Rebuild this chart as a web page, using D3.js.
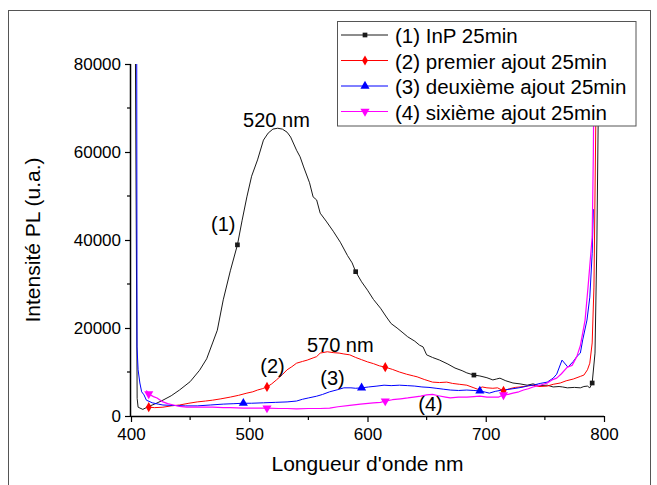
<!DOCTYPE html>
<html><head><meta charset="utf-8">
<script src="https://cdn.jsdelivr.net/npm/d3@7/dist/d3.min.js"></script>
<style>body{margin:0;background:#fff}</style>
</head><body>
<svg id="c" width="657" height="485"></svg>
<script>
// ---------- data ----------
const xTicks = [400, 500, 600, 700, 800];
const xMinor = [450, 550, 650, 750];
const yTicks = [0, 20000, 40000, 60000, 80000];
const yMinor = [10000, 30000, 50000, 70000];
const xTitle = "Longueur d'onde nm";
const yTitle = "Intensité PL (u.a.)";
const seriesNames = ["(1) InP 25min", "(2) premier ajout 25min", "(3) deuxième ajout 25min", "(4) sixième ajout 25min"];

const s1 = [[403.5,95000],[404.5,40000],[405.2,4000],[406,2000],[410,1500],[415,2200],[420,2700],[427,3600],[434,4600],[441,5900],[450,7800],[458,10400],[464,13000],[469,16600],[473,19500],[478,26400],[484,33000],[490,38900],[494,44500],[498,49800],[502,54500],[507,58200],[512,62700],[516,64300],[520,65200],[524,65400],[528,65200],[532,64500],[535,63400],[540,60400],[543,58900],[546,56600],[551,53000],[554,49800],[557,49100],[560,46100],[565,44300],[571,42000],[577,39500],[583,36500],[587,34800],[590,32800],[595,30500],[600,28600],[605,26500],[611,24500],[616,22500],[620,21000],[625,20000],[630,18900],[634,18000],[640,17000],[644,16100],[647,15700],[650,13900],[655,13300],[661,12700],[668,11800],[674,10900],[680,10300],[684,9800],[690,9300],[695,9100],[701,8700],[706,8200],[709,8400],[712,8600],[717,8000],[723,7500],[729,7300],[735,7000],[740,7300],[745,6900],[752,7000],[757,6600],[762,6700],[765,6600],[769,6400],[775,6500],[780,6400],[783,6700],[786,6800],[788,6400],[790,7500],[792.4,14300],[794,40000],[795,65000],[796.5,95000]];
const s2 = [[413,2100],[415,2000],[420,1900],[427,2000],[434,2300],[441,2500],[449,2900],[456,3200],[463,3400],[469,3600],[476,3900],[484,4300],[491,4700],[498,5200],[503,5500],[507,5900],[511,6200],[515,6600],[519,7300],[523,8200],[528,9400],[532,10500],[536,11200],[540,12000],[545,12400],[549,12700],[554,13200],[557,13500],[560,14300],[566,14600],[571,14400],[576,14300],[580,14100],[585,13900],[590,13300],[595,12800],[600,12300],[605,11900],[610,11400],[615,11100],[621,10600],[627,10000],[633,9500],[639,9100],[642,8900],[648,8300],[655,7700],[661,7600],[667,7700],[672,7400],[678,7200],[684,7000],[690,6400],[693,6100],[697,6600],[701,6400],[706,6300],[710,6400],[715,5700],[720,6200],[725,6500],[729,6600],[735,6800],[740,7000],[745,6700],[752,6800],[757,7200],[763,7500],[768,8000],[774,8400],[780,9000],[783,9300],[786,10500],[788,12000],[790,16600],[791.5,29300],[793,65000],[794,95000]];
const s3 = [[404.8,95000],[405.1,15700],[406,10500],[407.5,7500],[409,5500],[411,4800],[413,3600],[418,3000],[423,2700],[427,2500],[435,2400],[446,2300],[456,2300],[467,2500],[478,2700],[487,2800],[495,2900],[502,2900],[512,3000],[522,3100],[532,3200],[540,3400],[545,3800],[550,4100],[557,4500],[562,4900],[568,5500],[575,6000],[580,6400],[586,6400],[590,6300],[595,6400],[601,6600],[608,6800],[614,7000],[620,6900],[627,7000],[634,6900],[640,6800],[646,6600],[652,6500],[658,6300],[664,6100],[670,5900],[677,5800],[684,5900],[690,5800],[695,5700],[700,5400],[703,5200],[708,5600],[714,5900],[718,6000],[723,6200],[728,6400],[732,6600],[736,6900],[740,7000],[746,7400],[752,7700],[757,8600],[760,9500],[764.5,12700],[769.5,11100],[774,12400],[777,13500],[780,14300],[782,17300],[785.6,21800],[788,27000],[790,37000],[791,47000]];
const s4 = [[413,5800],[415,5000],[419,4400],[422,4100],[427,3200],[431,2800],[436,2500],[441,2200],[447,2000],[458,2000],[469,2000],[478,1900],[484,1900],[495,1800],[505,1800],[515,1800],[525,1700],[532,1700],[540,1600],[550,1700],[560,1700],[568,1800],[575,2100],[585,2400],[594,2700],[605,3000],[611,3100],[615,3400],[621,3700],[628,3900],[634,4100],[639,4300],[645,4500],[650,4800],[655,4900],[660,4600],[666,4300],[670,4100],[677,4300],[684,4300],[690,4400],[695,4500],[701,4300],[706,4300],[711,4300],[715,4800],[719,4900],[723,5200],[728,5500],[732,5900],[736,6200],[740,6600],[746,7000],[752,7500],[756,8200],[760,8600],[764,9600],[769,11100],[773,11500],[777,13500],[780,16000],[784,21800],[786.5,29300],[790,40700],[791,59800],[792,95000]];

const markers1 = [490, 590, 690, 790];
const markers2 = [415, 515, 615, 715];
const markers3 = [495, 595, 695];
const markers4 = [415, 515, 615, 715];

const annotTexts = ["520 nm", "570 nm", "(1)", "(2)", "(3)", "(4)"];
const annotAnchors = [[523, 65700], [577, 14550], [478, 42000], [519.7, 9800], [570.4, 7050], [653.3, 1150]];

// ---------- drawing ----------
const W = 657, H = 485;
const M = {left: 131, right: 604, top: 64, bottom: 416};
const FONT = "'Liberation Sans', Arial, sans-serif";
const svg = d3.select("#c");

const x = d3.scaleLinear().domain([400, 800]).range([M.left, M.right]);
const y = d3.scaleLinear().domain([0, 80000]).range([M.bottom, M.top]);

// outer frame
svg.append("rect").attr("x", 8.5).attr("y", 10.5).attr("width", 642).attr("height", 490)
  .attr("fill", "none").attr("stroke", "#555").attr("stroke-width", 1);

svg.append("defs").append("clipPath").attr("id", "clip")
  .append("rect").attr("x", M.left).attr("y", M.top).attr("width", M.right - M.left + 20).attr("height", M.bottom - M.top);

const series = [
  {data: s1, marks: markers1, color: "#1a1a1a", sym: d3.symbolSquare, size: 22, w: 1},
  {data: s2, marks: markers2, color: "#ff0000", sym: d3.symbolDiamond, size: 30, w: 1},
  {data: s3, marks: markers3, color: "#0000ff", sym: d3.symbolTriangle, size: 36, w: 1},
  {data: s4, marks: markers4, color: "#ff00ff", sym: d3.symbolTriangle, size: 36, w: 1.2, down: true}
];

const line = d3.line().x(d => x(d[0])).y(d => y(d[1]));
const g = svg.append("g").attr("clip-path", "url(#clip)");
series.forEach(s => {
  g.append("path").attr("d", line(s.data)).attr("fill", "none")
    .attr("stroke", s.color).attr("stroke-width", s.w).attr("stroke-linejoin", "round");
});
series.forEach(s => {
  s.marks.forEach(m => {
    const p = s.data.find(d => d[0] === m);
    if (!p) return;
    g.append("path").attr("d", d3.symbol().type(s.sym).size(s.size)())
      .attr("transform", `translate(${x(p[0])},${y(p[1])})${s.down ? " rotate(180)" : ""}`)
      .attr("fill", s.color);
  });
});

// axes
const xAxis = d3.axisBottom(x).tickValues(xTicks).tickSize(6).tickPadding(6).tickFormat(d3.format("d"));
const gx = svg.append("g").attr("transform", `translate(0,${M.bottom})`).call(xAxis);
gx.selectAll("text").attr("font-family", FONT).attr("font-size", 17).attr("fill", "#000");
gx.select(".domain").attr("d", `M${M.left},0.5H${M.right}`).attr("stroke", "#000").attr("stroke-width", 1.5);
gx.selectAll(".tick line").attr("stroke", "#000").attr("stroke-width", 1.2);
svg.append("g").attr("transform", `translate(0,${M.bottom})`)
  .selectAll("line").data(xMinor).join("line")
  .attr("x1", d => x(d)).attr("x2", d => x(d)).attr("y1", 0).attr("y2", 4)
  .attr("stroke", "#000").attr("stroke-width", 1.2);

const yAxis = d3.axisLeft(y).tickValues(yTicks).tickSize(6).tickPadding(4).tickFormat(d3.format("d"));
const gy = svg.append("g").attr("transform", `translate(${M.left},0)`).call(yAxis);
gy.selectAll("text").attr("font-family", FONT).attr("font-size", 17).attr("fill", "#000");
gy.select(".domain").attr("d", `M-0.5,${M.top}V${M.bottom}`).attr("stroke", "#000").attr("stroke-width", 1.5);
gy.selectAll(".tick line").attr("stroke", "#000").attr("stroke-width", 1.2);
svg.append("g").attr("transform", `translate(${M.left},0)`)
  .selectAll("line").data(yMinor).join("line")
  .attr("x1", 0).attr("x2", -4).attr("y1", d => y(d)).attr("y2", d => y(d))
  .attr("stroke", "#000").attr("stroke-width", 1.2);

// axis titles
svg.append("text").attr("x", (M.left + M.right) / 2).attr("y", 471).attr("text-anchor", "middle")
  .attr("font-family", FONT).attr("font-size", 21).text(xTitle);
svg.append("text").attr("transform", `translate(40,${(M.top + M.bottom) / 2}) rotate(-90)`)
  .attr("text-anchor", "middle").attr("font-family", FONT).attr("font-size", 21).text(yTitle);

// annotations
annotTexts.forEach((t, i) => {
  svg.append("text").attr("x", x(annotAnchors[i][0])).attr("y", y(annotAnchors[i][1]))
    .attr("text-anchor", "middle").attr("font-family", FONT).attr("font-size", 20).text(t);
});

// legend
const lg = svg.append("g");
lg.append("rect").attr("x", 337.5).attr("y", 21.5).attr("width", 298.5).attr("height", 104.5)
  .attr("fill", "#fff").attr("stroke", "#555").attr("stroke-width", 1);
series.forEach((s, i) => {
  const by = 43 + i * 25.5;
  lg.append("line").attr("x1", 341).attr("x2", 388).attr("y1", by - 8).attr("y2", by - 8)
    .attr("stroke", s.color).attr("stroke-width", s.w);
  lg.append("path").attr("d", d3.symbol().type(s.sym).size(s.size)())
    .attr("transform", `translate(365,${by - 8})${s.down ? " rotate(180)" : ""}`).attr("fill", s.color);
  lg.append("text").attr("x", 395).attr("y", by).attr("font-family", FONT).attr("font-size", 20.5)
    .text(seriesNames[i]);
});
</script>
</body></html>
